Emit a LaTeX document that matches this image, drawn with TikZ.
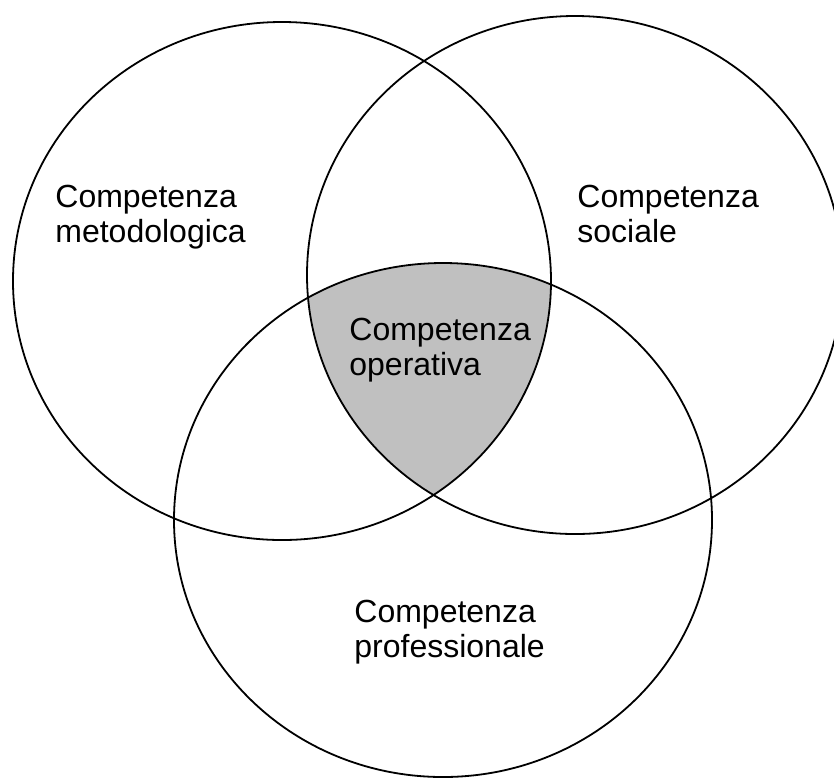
\documentclass[tikz,border=0pt]{standalone}
\usepackage{fontspec}
\setmainfont{Liberation Sans}
\tikzset{
    venn/.style={draw=black, line width=0.9pt},
    overlap/.style={fill={rgb,255:red,192;green,192;blue,192}},
    lbl/.style={align=left, inner sep=0pt, anchor=base west, font=\fontsize{16}{17.5}\selectfont}
}

\begin{document}
\begin{tikzpicture}[x=0.5pt, y=-0.5pt]
        \useasboundingbox (0,0) rectangle (834,778);
        \coordinate (metodo) at (282,281);
        \coordinate (sociale) at (575,275);
        \coordinate (profess) at (443,520);
        \begin{scope}
            \clip (metodo) ellipse [x radius=269, y radius=259];
            \clip (sociale) ellipse [x radius=268, y radius=259];
            \fill [overlap] (profess) ellipse [x radius=269, y radius=257];
        \end{scope}
        \draw [venn] (metodo) ellipse [x radius=269, y radius=259];
        \draw [venn] (sociale) ellipse [x radius=268, y radius=259];
        \draw [venn] (profess) ellipse [x radius=269, y radius=257];
        \node [lbl] (lmetodo) at (55,242) {Competenza\\metodologica};
        \node [lbl] (lsociale) at (577,242) {Competenza\\sociale};
        \node [lbl] (loperativa) at (349,375) {Competenza\\operativa};
        \node [lbl] (lprofess) at (354,657) {Competenza\\professionale};
    \end{tikzpicture}
\end{document}
